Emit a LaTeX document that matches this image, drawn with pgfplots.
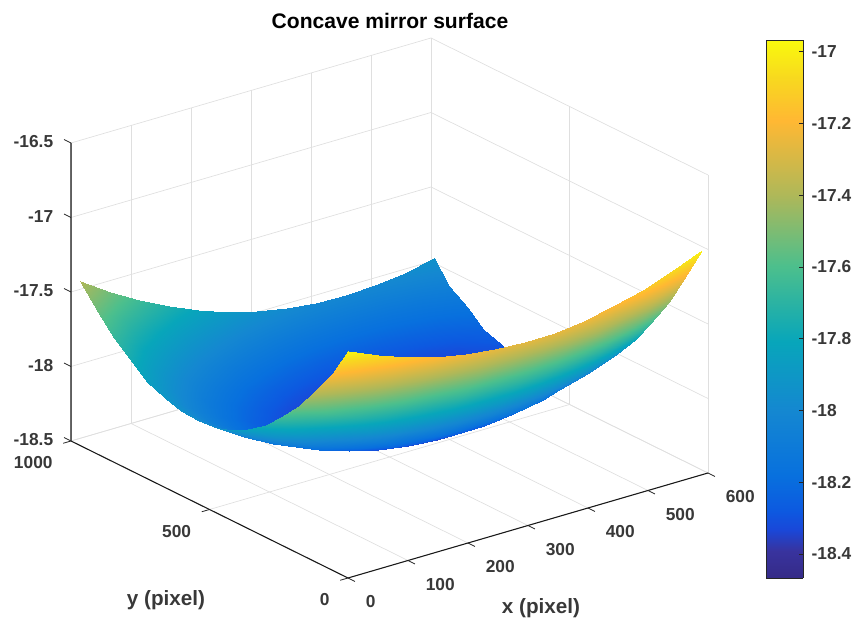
\documentclass[border=0pt]{standalone}
\usepackage{fontspec}
\setmainfont{Liberation Sans}
\usepackage{pgfplots}
\pgfplotsset{compat=1.18}
\usetikzlibrary{calc}
\definecolor{txt}{gray}{0.22}
\pgfplotsset{colormap={parula}{
 rgb(0pt)=(.2081,.1663,.5292)
 rgb(5pt)=(.22,.20,.62)
 rgb(9pt)=(.10,.28,.85)
 rgb(12.5pt)=(.05,.35,.88)
 rgb(19pt)=(.03,.44,.87)
 rgb(31pt)=(.08,.53,.82)
 rgb(44pt)=(.03,.65,.73)
 rgb(58pt)=(.30,.75,.55)
 rgb(71pt)=(.68,.72,.35)
 rgb(85pt)=(1,.72,.2)
 rgb(93pt)=(.97,.85,.12)
 rgb(100pt)=(.98,.98,.05)
}}
\begin{document}
\begin{tikzpicture}
\begin{axis}[
  x={(0.45pt,0.13125pt)}, y={(-0.20775pt,0.10275pt)}, z={(0pt,111.75pt)},
  xmin=0,xmax=600,ymin=0,ymax=1000,zmin=-18.5,zmax=-16.5,
  xtick={0,100,...,600}, ytick={0,500,1000}, ztick={-18.5,-18,-17.5,-17,-16.5},
  grid=major, grid style={gray!25,line width=0.5pt},
  axis line style={draw=none},
  tick style={draw=none},
  tick align=outside,
  xtick pos=left, ytick pos=left, ztick pos=left,
  /pgf/number format/assume math mode=true,
  /pgf/number format/fixed,
  /pgf/number format/1000 sep={},
  ticklabel style={font=\bfseries\fontsize{13}{13}\selectfont,text=txt},
  xticklabel style={anchor=west,xshift=6pt,yshift=-16pt},
  yticklabel style={anchor=east,xshift=-6.2pt,yshift=-15pt},
  zticklabel style={xshift=-6pt,yshift=-2.2pt},
  colormap name=parula,
  point meta min=-18.467, point meta max=-16.967,
  clip=false,
]
\addplot3[surf,shader=interp,z buffer=default,point meta=z] coordinates {
(590,967,-17.934)(540.8,967,-17.975)(491.7,967,-18.000)(442.5,967,-18.009)(393.3,967,-18.004)(344.2,967,-17.982)(295,967,-17.945)(245.8,967,-17.892)(196.7,967,-17.824)(147.5,967,-17.740)(98.3,967,-17.642)(49.2,967,-17.527)(0,967,-17.396)

(587.5,906.6,-18.063)(540.8,906.6,-18.105)(491.7,906.6,-18.134)(442.5,906.6,-18.146)(393.3,906.6,-18.143)(344.2,906.6,-18.125)(295,906.6,-18.090)(245.8,906.6,-18.039)(196.7,906.6,-17.972)(147.5,906.6,-17.889)(98.3,906.6,-17.791)(49.2,906.6,-17.676)(2.5,906.6,-17.548)

(590,846.1,-18.160)(540.8,846.1,-18.210)(491.7,846.1,-18.243)(442.5,846.1,-18.259)(393.3,846.1,-18.259)(344.2,846.1,-18.242)(295,846.1,-18.210)(245.8,846.1,-18.161)(196.7,846.1,-18.096)(147.5,846.1,-18.014)(98.3,846.1,-17.916)(49.2,846.1,-17.801)(0,846.1,-17.670)

(587.5,785.7,-18.239)(540.8,785.7,-18.290)(491.7,785.7,-18.326)(442.5,785.7,-18.345)(393.3,785.7,-18.349)(344.2,785.7,-18.335)(295,785.7,-18.304)(245.8,785.7,-18.258)(196.7,785.7,-18.194)(147.5,785.7,-18.113)(98.3,785.7,-18.017)(49.2,785.7,-17.903)(2.5,785.7,-17.775)

(590,725.3,-18.287)(540.8,725.3,-18.344)(491.7,725.3,-18.385)(442.5,725.3,-18.408)(393.3,725.3,-18.413)(344.2,725.3,-18.403)(295,725.3,-18.374)(245.8,725.3,-18.330)(196.7,725.3,-18.268)(147.5,725.3,-18.189)(98.3,725.3,-18.094)(49.2,725.3,-17.980)(0,725.3,-17.850)

(587.5,664.8,-18.318)(540.8,664.8,-18.375)(491.7,664.8,-18.419)(442.5,664.8,-18.445)(393.3,664.8,-18.454)(344.2,664.8,-18.445)(295,664.8,-18.420)(245.8,664.8,-18.377)(196.7,664.8,-18.317)(147.5,664.8,-18.240)(98.3,664.8,-18.146)(49.2,664.8,-18.034)(2.5,664.8,-17.909)

(590,604.4,-18.316)(540.8,604.4,-18.380)(491.7,604.4,-18.427)(442.5,604.4,-18.456)(393.3,604.4,-18.468)(344.2,604.4,-18.462)(295,604.4,-18.440)(245.8,604.4,-18.399)(196.7,604.4,-18.342)(147.5,604.4,-18.267)(98.3,604.4,-18.175)(49.2,604.4,-18.065)(0,604.4,-17.937)

(587.5,543.9,-18.298)(540.8,543.9,-18.362)(491.7,543.9,-18.411)(442.5,543.9,-18.443)(393.3,543.9,-18.458)(344.2,543.9,-18.455)(295,543.9,-18.434)(245.8,543.9,-18.397)(196.7,543.9,-18.342)(147.5,543.9,-18.269)(98.3,543.9,-18.179)(49.2,543.9,-18.072)(2.5,543.9,-17.950)

(590,483.5,-18.247)(540.8,483.5,-18.318)(491.7,483.5,-18.370)(442.5,483.5,-18.404)(393.3,483.5,-18.422)(344.2,483.5,-18.422)(295,483.5,-18.404)(245.8,483.5,-18.369)(196.7,483.5,-18.317)(147.5,483.5,-18.246)(98.3,483.5,-18.160)(49.2,483.5,-18.055)(0,483.5,-17.932)

(587.5,423.1,-18.180)(540.8,423.1,-18.249)(491.7,423.1,-18.304)(442.5,423.1,-18.341)(393.3,423.1,-18.362)(344.2,423.1,-18.364)(295,423.1,-18.349)(245.8,423.1,-18.317)(196.7,423.1,-18.268)(147.5,423.1,-18.200)(98.3,423.1,-18.116)(49.2,423.1,-18.014)(2.5,423.1,-17.898)

(590,362.6,-18.080)(540.8,362.6,-18.155)(491.7,362.6,-18.213)(442.5,362.6,-18.253)(393.3,362.6,-18.276)(344.2,362.6,-18.281)(295,362.6,-18.269)(245.8,362.6,-18.240)(196.7,362.6,-18.193)(147.5,362.6,-18.129)(98.3,362.6,-18.048)(49.2,362.6,-17.949)(0,362.6,-17.833)

(587.5,302.2,-17.964)(540.8,302.2,-18.037)(491.7,302.2,-18.097)(442.5,302.2,-18.140)(393.3,302.2,-18.165)(344.2,302.2,-18.172)(295,302.2,-18.164)(245.8,302.2,-18.137)(196.7,302.2,-18.095)(147.5,302.2,-18.034)(98.3,302.2,-17.956)(49.2,302.2,-17.861)(2.5,302.2,-17.752)

(590,241.8,-17.815)(540.8,241.8,-17.894)(491.7,241.8,-17.957)(442.5,241.8,-18.001)(393.3,241.8,-18.029)(344.2,241.8,-18.040)(295,241.8,-18.034)(245.8,241.8,-18.011)(196.7,241.8,-17.971)(147.5,241.8,-17.914)(98.3,241.8,-17.841)(49.2,241.8,-17.749)(0,241.8,-17.641)

(587.5,181.3,-17.649)(540.8,181.3,-17.727)(491.7,181.3,-17.791)(442.5,181.3,-17.838)(393.3,181.3,-17.868)(344.2,181.3,-17.882)(295,181.3,-17.879)(245.8,181.3,-17.859)(196.7,181.3,-17.823)(147.5,181.3,-17.770)(98.3,181.3,-17.700)(49.2,181.3,-17.614)(2.5,181.3,-17.514)

(590,120.9,-17.452)(540.8,120.9,-17.534)(491.7,120.9,-17.600)(442.5,120.9,-17.649)(393.3,120.9,-17.682)(344.2,120.9,-17.698)(295,120.9,-17.698)(245.8,120.9,-17.682)(196.7,120.9,-17.650)(147.5,120.9,-17.601)(98.3,120.9,-17.536)(49.2,120.9,-17.454)(0,120.9,-17.355)

(587.5,60.4,-17.237)(540.8,60.4,-17.317)(491.7,60.4,-17.384)(442.5,60.4,-17.435)(393.3,60.4,-17.471)(344.2,60.4,-17.490)(295,60.4,-17.493)(245.8,60.4,-17.481)(196.7,60.4,-17.452)(147.5,60.4,-17.408)(98.3,60.4,-17.348)(49.2,60.4,-17.271)(2.5,60.4,-17.182)

(590,0,-16.990)(540.8,0,-17.0745)(491.7,0,-17.1434)(442.5,0,-17.1967)(393.3,0,-17.2346)(344.2,0,-17.2568)(295,0,-17.2635)(245.8,0,-17.2546)(196.7,0,-17.2302)(147.5,0,-17.1902)(98.3,0,-17.1348)(49.2,0,-17.0637)(0,0,-16.977)
};
\draw[black!90,line width=0.8pt] (axis cs:0,1000,-16.5) -- (axis cs:0,1000,-18.5) -- (axis cs:0,0,-18.5) -- (axis cs:600,0,-18.5);
\draw[black!85,line width=0.6pt]
  (axis cs:0,0,-18.5) -- (axis cs:0,-25,-18.5)
  (axis cs:100,0,-18.5) -- (axis cs:100,-25,-18.5)
  (axis cs:200,0,-18.5) -- (axis cs:200,-25,-18.5)
  (axis cs:300,0,-18.5) -- (axis cs:300,-25,-18.5)
  (axis cs:400,0,-18.5) -- (axis cs:400,-25,-18.5)
  (axis cs:500,0,-18.5) -- (axis cs:500,-25,-18.5)
  (axis cs:600,0,-18.5) -- (axis cs:600,-25,-18.5)
  (axis cs:0,0,-18.5) -- (axis cs:-13,0,-18.5)
  (axis cs:0,500,-18.5) -- (axis cs:-13,500,-18.5)
  (axis cs:0,1000,-18.5) -- (axis cs:-13,1000,-18.5)
  (axis cs:0,1000,-18.5) -- (axis cs:0,1025,-18.5)
  (axis cs:0,1000,-18) -- (axis cs:0,1025,-18)
  (axis cs:0,1000,-17.5) -- (axis cs:0,1025,-17.5)
  (axis cs:0,1000,-17) -- (axis cs:0,1025,-17)
  (axis cs:0,1000,-16.5) -- (axis cs:0,1025,-16.5);
\coordinate (F) at (axis cs:0,0,-18.5);
\end{axis}
\begin{axis}[
  at={($(F)+(418*0.75pt,0pt)$)}, anchor=south west,
  scale only axis, width=27.75pt, height=403.5pt,
  xmin=0,xmax=1,ymin=-18.467,ymax=-16.967,
  xtick=\empty, ytick={-18.4,-18.2,...,-17}, ytick pos=right,
  yticklabel pos=right, tick align=inside,
  major tick length=3pt,
  tick style={black!85,line width=0.6pt},
  axis line style={black!85,line width=0.6pt},
  /pgf/number format/assume math mode=true,
  /pgf/number format/fixed,/pgf/number format/precision=1,
  ticklabel style={font=\bfseries\fontsize{13}{13}\selectfont,text=txt},
  yticklabel style={xshift=3pt},
  colormap name=parula,
  view={0}{90},
  point meta min=-18.467, point meta max=-16.967,
]
\addplot3[surf,shader=interp,point meta=y] coordinates {
(0,-18.467,0)(1,-18.467,0)

(0,-16.967,0)(1,-16.967,0)
};
\end{axis}
\begin{scope}[shift={(F)},x=0.75pt,y=-0.75pt]
\node[font=\bfseries\fontsize{15.8}{15.8}\selectfont] at (390-348,21-578) {Concave mirror surface};
\node[font=\bfseries\fontsize{15.5}{15.5}\selectfont,text=txt] at (541-348,608-578) {x (pixel)};
\node[font=\bfseries\fontsize{15.5}{15.5}\selectfont,text=txt] at (166-348,600-578) {y (pixel)};
\pgfresetboundingbox
\path (-348,-578) rectangle (505,45);
\end{scope}
\end{tikzpicture}
\end{document}
